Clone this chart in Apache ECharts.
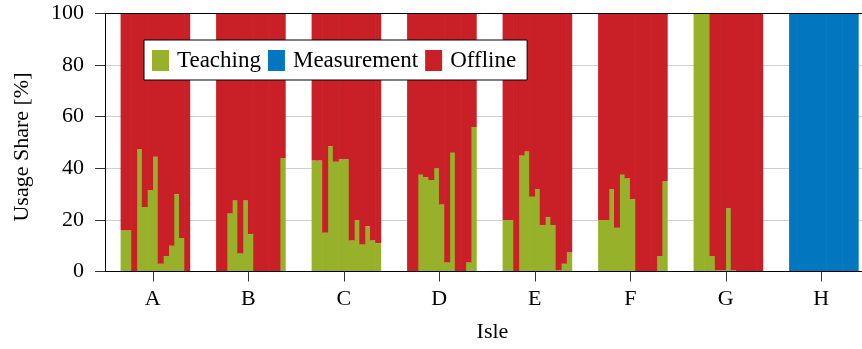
<!DOCTYPE html>
<html>
<head>
<meta charset="utf-8">
<script src="https://cdn.jsdelivr.net/npm/echarts@6/dist/echarts.min.js"></script>
<style>
  html, body { margin: 0; padding: 0; background: #fff; }
  #chart { width: 862px; height: 349px; }
</style>
</head>
<body>
<div id="chart"></div>
<script>
// Isles and the hourly slots shown for each isle (one bar per hour, 7:00 to 19:00)
const isles = ['A', 'B', 'C', 'D', 'E', 'F', 'G', 'H'];
const hours = [7, 8, 9, 10, 11, 12, 13, 14, 15, 16, 17, 18, 19];
const yTicks = [0, 20, 40, 60, 80, 100];

// Teaching share per hour [%]
const teachingA = [16, 16, 0, 47.5, 25, 31.5, 44.5, 3, 6, 10, 30, 13, 0];
const teachingB = [0, 0, 22.5, 27.5, 7, 27.5, 14.5, 0, 0, 0, 0, 0, 44];
const teachingC = [43, 43, 15, 48.5, 42.5, 43.5, 43.5, 12, 20, 10.5, 17.5, 12, 11];
const teachingD = [0, 0, 37.5, 36.5, 35.5, 40, 26, 3.5, 46, 0, 0, 3.5, 56];
const teachingE = [20, 20, 0, 45, 46.5, 29, 32, 18, 21, 18, 0.5, 3, 7.5];
const teachingF = [20, 20, 32, 17, 37.5, 36, 28, 0, 0, 0, 0, 6, 35];
const teachingG = [100, 100, 100, 6, 0.5, 0.5, 24.5, 0.5, 0, 0, 0, 0, 0];
const teachingH = [0, 0, 0, 0, 0, 0, 0, 0, 0, 0, 0, 0, 0];

// Measurement share per hour [%]
const measurementA = [0, 0, 0, 0, 0, 0, 0, 0, 0, 0, 0, 0, 0];
const measurementB = [0, 0, 0, 0, 0, 0, 0, 0, 0, 0, 0, 0, 0];
const measurementC = [0, 0, 0, 0, 0, 0, 0, 0, 0, 0, 0, 0, 0];
const measurementD = [0, 0, 0, 0, 0, 0, 0, 0, 0, 0, 0, 0, 0];
const measurementE = [0, 0, 0, 0, 0, 0, 0, 0, 0, 0, 0, 0, 0];
const measurementF = [0, 0, 0, 0, 0, 0, 0, 0, 0, 0, 0, 0, 0];
const measurementG = [0, 0, 0, 0, 0, 0, 0, 0, 0, 0, 0, 0, 0];
const measurementH = [100, 100, 100, 100, 100, 100, 100, 100, 100, 100, 100, 100, 100];

// Offline share per hour [%]
const offlineA = [84, 84, 100, 52.5, 75, 68.5, 55.5, 97, 94, 90, 70, 87, 100];
const offlineB = [100, 100, 77.5, 72.5, 93, 72.5, 85.5, 100, 100, 100, 100, 100, 56];
const offlineC = [57, 57, 85, 51.5, 57.5, 56.5, 56.5, 88, 80, 89.5, 82.5, 88, 89];
const offlineD = [100, 100, 62.5, 63.5, 64.5, 60, 74, 96.5, 54, 100, 100, 96.5, 44];
const offlineE = [80, 80, 100, 55, 53.5, 71, 68, 82, 79, 82, 99.5, 97, 92.5];
const offlineF = [80, 80, 68, 83, 62.5, 64, 72, 100, 100, 100, 100, 94, 65];
const offlineG = [0, 0, 0, 94, 99.5, 99.5, 75.5, 99.5, 100, 100, 100, 100, 100];
const offlineH = [0, 0, 0, 0, 0, 0, 0, 0, 0, 0, 0, 0, 0];

const teaching = [teachingA, teachingB, teachingC, teachingD, teachingE, teachingF, teachingG, teachingH];
const measurement = [measurementA, measurementB, measurementC, measurementD, measurementE, measurementF, measurementG, measurementH];
const offline = [offlineA, offlineB, offlineC, offlineD, offlineE, offlineF, offlineG, offlineH];

// The x scale runs in hours; each isle occupies an 18-hour stretch,
// its tick sits at 13:00 of that stretch.
const isleSpan = 18;
const tickHour = 13;
const xMin = 4;
const xMax = 148;

const slots = [];
for (let s = xMin; s < xMax; s++) slots.push(String(s));

// Place each isle's hourly values into the shared hour slots.
// Empty shares are left out so they draw no sliver.
function spread(perIsle) {
  const out = slots.map(() => '-');
  perIsle.forEach((vals, k) => {
    vals.forEach((v, j) => {
      out[isleSpan * k + hours[j] - xMin] = v > 0 ? v : '-';
    });
  });
  return out;
}

const isleTicks = isles.map((_, k) => isleSpan * k + tickHour);

const font = 'Liberation Serif';
const colors = { teaching: '#97B22A', measurement: '#0277BF', offline: '#C91F26' };

// bars slightly wider than an hour slot so neighbouring hours butt together without seams
const hourBarWidth = '112%';

const chart = echarts.init(document.getElementById('chart'), null, { renderer: 'canvas' });

chart.setOption({
  animation: false,
  grid: { left: 105, top: 13.5, width: 764, height: 258, outerBoundsMode: 'none', containLabel: false },
  legend: {
    left: 144, top: 40,
    orient: 'horizontal',
    padding: [9, 11, 8, 8],
    itemWidth: 17, itemHeight: 21, itemGap: 7,
    icon: 'rect',
    backgroundColor: '#fff',
    borderColor: '#000', borderWidth: 1,
    textStyle: { fontFamily: font, fontSize: 23, color: '#000', padding: [0, 0, 0, 3] },
    data: ['Teaching', 'Measurement', 'Offline']
  },
  xAxis: [
    {
      type: 'category', data: slots, position: 'bottom', z: 5,
      axisLine: { lineStyle: { color: '#000', width: 1 } },
      axisTick: { show: false }, axisLabel: { show: false }, splitLine: { show: false }
    },
    {
      type: 'value', min: xMin, max: xMax, position: 'bottom', z: 5,
      axisLine: { show: false }, splitLine: { show: false },
      axisTick: { show: true, customValues: isleTicks, length: 10, lineStyle: { color: '#333' } },
      axisLabel: {
        customValues: isleTicks, margin: 17,
        fontFamily: font, fontSize: 22, color: '#000',
        formatter: v => isles[Math.round((v - tickHour) / isleSpan)]
      },
      name: 'Isle', nameLocation: 'middle', nameGap: 50,
      nameTextStyle: { fontFamily: font, fontSize: 22, color: '#000', padding: [0, 0, 0, 11] }
    },
    {
      type: 'value', min: xMin, max: xMax, position: 'top', z: 5,
      axisLine: { show: true, lineStyle: { color: '#000', width: 1 } },
      axisTick: { show: false }, axisLabel: { show: false }, splitLine: { show: false }
    }
  ],
  yAxis: [
    {
      type: 'value', min: 0, max: 100, interval: 20, position: 'left', z: 0,
      axisLine: { show: false }, axisTick: { show: false }, axisLabel: { show: false },
      splitLine: { show: true, lineStyle: { color: '#cfcfcf', width: 1 } }
    },
    {
      type: 'value', min: 0, max: 100, interval: 20, position: 'left', z: 5,
      axisLine: { show: true, lineStyle: { color: '#000', width: 1 } },
      axisTick: { show: true, length: 10, lineStyle: { color: '#333' } },
      axisLabel: {
        margin: 21, fontFamily: font, fontSize: 22, color: '#000',
        formatter: v => (yTicks.indexOf(v) >= 0 ? String(v) : '')
      },
      splitLine: { show: false },
      name: 'Usage Share [%]', nameLocation: 'middle', nameGap: 72,
      nameTextStyle: { fontFamily: font, fontSize: 22, color: '#000', padding: [0, 9, 0, 0] }
    }
  ],
  series: [
    {
      name: 'Teaching', type: 'bar', stack: 'share', data: spread(teaching),
      barWidth: hourBarWidth, itemStyle: { color: colors.teaching }
    },
    {
      name: 'Measurement', type: 'bar', stack: 'share', data: spread(measurement),
      barWidth: hourBarWidth, itemStyle: { color: colors.measurement }
    },
    {
      name: 'Offline', type: 'bar', stack: 'share', data: spread(offline),
      barWidth: hourBarWidth, itemStyle: { color: colors.offline }
    }
  ]
});
</script>
</body>
</html>
